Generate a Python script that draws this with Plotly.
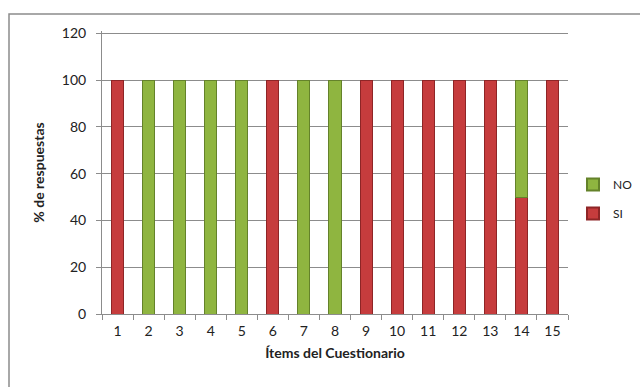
import plotly.graph_objects as go

items = [str(i) for i in range(1, 16)]
si = [100, 0, 0, 0, 0, 100, 0, 0, 100, 100, 100, 100, 100, 50, 100]
no = [0, 100, 100, 100, 100, 0, 100, 100, 0, 0, 0, 0, 0, 50, 0]
y_ticks = [0, 20, 40, 60, 80, 100, 120]

red = "#C63C3D"
red_edge = "#8E2526"
green = "#8FB540"
green_edge = "#64822A"


def nonzero(vals):
    # empty segments are left out so they draw no outline
    return [v if v else None for v in vals]


fig = go.Figure()
fig.add_trace(go.Bar(
    x=items, y=nonzero(si), name="SI", width=0.39, legendrank=2, legendgroup="si",
    marker=dict(color=red, line=dict(color=red_edge, width=1)),
))
fig.add_trace(go.Bar(
    x=items, y=nonzero(no), name="NO", width=0.39, legendrank=1, legendgroup="no",
    marker=dict(color=green, line=dict(color=green_edge, width=1)),
))

L, R, T, B = 102, 72, 31, 73
pw, ph = 640 - L - R, 387 - T - B

# outer chart frame
fig.add_shape(
    type="rect", xref="paper", yref="paper",
    x0=(9 - L) / pw, x1=(660 - L) / pw,
    y0=(387 - B - 400) / ph, y1=(387 - B - 14) / ph,
    line=dict(color="#8C8C8C", width=1.5), fillcolor="rgba(0,0,0,0)",
    layer="below",
)

fig.update_layout(
    width=640, height=387,
    margin=dict(l=L, r=R, t=T, b=B, autoexpand=False),
    barmode="stack",
    plot_bgcolor="white", paper_bgcolor="white",
    font=dict(family="Lato, Liberation Sans, sans-serif", size=14, color="#222"),
    showlegend=True,
    legend=dict(
        x=(573 - L) / pw, y=(387 - B - 170) / ph, xanchor="left", yanchor="top",
        traceorder="grouped", tracegroupgap=10, itemsizing="constant",
        itemwidth=30, font=dict(size=12), bgcolor="rgba(0,0,0,0)",
    ),
    xaxis=dict(
        type="category", tickson="boundaries", ticks="outside", ticklen=5,
        tickcolor="#8C8C8C", showline=True, linecolor="#8C8C8C", linewidth=1,
        showgrid=False, ticklabelstandoff=4,
        title=dict(text="<b>Ítems del Cuestionario</b>", font=dict(size=14), standoff=10),
        tickfont=dict(size=14),
    ),
    yaxis=dict(
        range=[0, 121], tickvals=y_ticks, ticks="outside", ticklen=5,
        tickcolor="#8C8C8C", showline=True, linecolor="#8C8C8C", linewidth=1,
        showgrid=True, gridcolor="#8C8C8C", gridwidth=1, zeroline=False,
        ticklabelstandoff=7,
        title=dict(text="<b>% de respuestas</b>", font=dict(size=14), standoff=13),
        tickfont=dict(size=14),
    ),
)

fig.write_html("out.html")
